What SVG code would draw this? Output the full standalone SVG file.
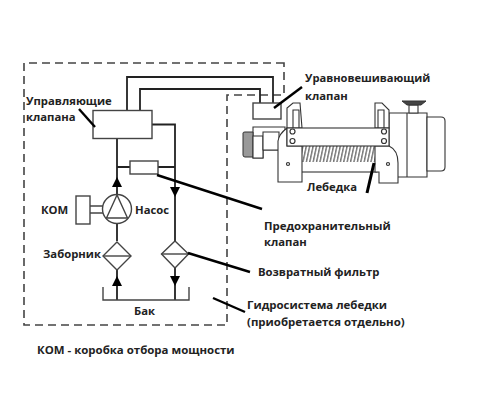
<svg xmlns="http://www.w3.org/2000/svg" width="479" height="409" viewBox="0 0 479 409">
<defs>
<style>
text{font-family:"Open Sans","Liberation Sans",sans-serif;font-size:11.3px;font-weight:700;fill:#222}
.t{font-size:11.45px}
.u{font-size:11.15px}
.d{fill:none;stroke:#444;stroke-width:1.6;stroke-dasharray:8 5}
.p{fill:none;stroke:#222;stroke-width:1.8}
.b{fill:#fff;stroke:#444;stroke-width:1.4}
.n{fill:none;stroke:#444;stroke-width:1.4}
.l{fill:none;stroke:#000;stroke-width:2.4}
.w{fill:#fff;stroke:#333;stroke-width:1.1}
.k{fill:#444;stroke:#333;stroke-width:1}
.m{fill:#999;stroke:#333;stroke-width:1}
.a{fill:#000}
</style>
<pattern id="h" width="3.4" height="17" patternUnits="userSpaceOnUse" patternTransform="skewX(-12)">
<rect width="3.4" height="17" fill="#fff"/><rect width="1.5" height="17" fill="#777"/>
</pattern>
</defs>
<rect width="479" height="409" fill="#fff"/>
<g id="boundary">
<path class="d" d="M284 63H24V325H227V95H284Z"/>
</g>
<g id="connectors">
<path class="p" d="M127 111V77H273V103"/>
<path class="p" d="M140 111V89H260V103"/>
<path class="p" d="M117 138V196M117 224V241M117 270V300"/>
<path class="p" d="M152 124.500H175V241M175 268V300"/>
<path class="p" d="M117 167H130M158 167H175"/>
<path class="n" d="M90 206H103M90 213H103"/>
<polygon class="a" points="117,177 122,187 112,187"/>
<polygon class="a" points="170,187 180,187 175,197"/>
<polygon class="a" points="117,276 122,286 112,286"/>
<polygon class="a" points="170,276 180,276 175,286"/>
</g>
<g id="control-valve"><rect class="b" x="93" y="110.500" width="59" height="28"/></g>
<g id="relief-valve"><rect class="b" x="130" y="161" width="28" height="13"/></g>
<g id="pto"><rect class="b" x="76" y="196" width="14" height="28"/></g>
<g id="pump">
<circle class="b" cx="117" cy="209" r="14.500"/>
<path class="n" d="M117 195L106.500 218H127.500Z"/>
</g>
<g id="intake-filter">
<polygon class="b" points="117,242 131,256 117,270 103,256"/>
<path class="n" d="M103 256H131"/>
</g>
<g id="return-filter">
<polygon class="b" points="175,241 188.500,254 175,268 161.500,254"/>
<path class="n" d="M161.500 254H188.500"/>
</g>
<g id="tank">
<path class="n" d="M103 287V300H189V287"/>
</g>
<g id="counterbalance-valve"><rect class="b" x="253" y="103" width="28" height="16"/></g>
<g id="winch">
<path class="w" d="M253 127H285V150H263V158H253Z"/>
<path class="m" d="M243 133Q243 132 245 132H253V157H245Q243 157 243 155Z"/>
<path class="w" d="M253 136H263V158H253Z"/>
<path class="w" d="M263 132H279V150H263Z"/>
<path class="w" d="M389 113H427V177H389Z"/>
<path class="w" d="M407 113V177"/>
<path class="w" d="M427 117H441Q445 117 445 121V167Q445 171 441 171H427Z"/>
<path class="w" d="M409 105V113H418V105Z"/>
<path class="k" d="M402 101H426L421 105H407Z"/>
<rect class="w" x="297" y="146" width="80" height="26"/>
<rect x="297" y="146" width="78" height="16" fill="url(#h)"/>
<path class="w" d="M287 128Q279 134 278 141V182H302V146H287Z"/>
<path class="w" d="M375 146H389Q398 150 398 163V183H379V172H375Z"/>
<path class="w" d="M287 128V108L293 103H300L302 128Z"/>
<path class="w" d="M375 128V103H382L389 110V128Z"/>
<path class="w" d="M293 110H299V128H293ZM378 110H384V128H378Z"/>
<rect class="w" x="287" y="128" width="102" height="18"/>
<g fill="#fff" stroke="#333" stroke-width="1.200">
<circle cx="292.500" cy="131.500" r="2.500"/><circle cx="292.500" cy="141" r="2.500"/>
<circle cx="384" cy="131.500" r="2.500"/><circle cx="384" cy="141" r="2.500"/>
<circle cx="288" cy="164" r="1.500"/><circle cx="388" cy="164" r="1.500"/>
</g>
</g>
<g id="leaders">
<path class="l" d="M79 109L95 127"/>
<path class="l" d="M157 175L262 209"/>
<path class="l" d="M188 253L250 272"/>
<path class="l" d="M213 298L245 312"/>
<path class="l" d="M274 108L302 87"/>
<path class="l" d="M374 163L367 193" style="stroke-width:3"/>
</g>
<g id="labels">
<text x="26" y="105">Управляющие</text>
<text x="26" y="121">клапана</text>
<text class="u" x="305" y="82">Уравновешивающий</text>
<text x="305" y="100">клапан</text>
<text x="307" y="191">Лебедка</text>
<text x="41" y="214">КОМ</text>
<text x="135" y="214">Насос</text>
<text x="43" y="258">Заборник</text>
<text x="134" y="315">Бак</text>
<text class="t" x="264" y="230">Предохранительный</text>
<text x="264" y="246">клапан</text>
<text x="258" y="276">Возвратный фильтр</text>
<text class="t" x="247" y="309">Гидросистема лебедки</text>
<text class="t" x="247" y="326">(приобретается отдельно)</text>
<text class="t" x="37" y="354">КОМ - коробка отбора мощности</text>
</g>
</svg>
